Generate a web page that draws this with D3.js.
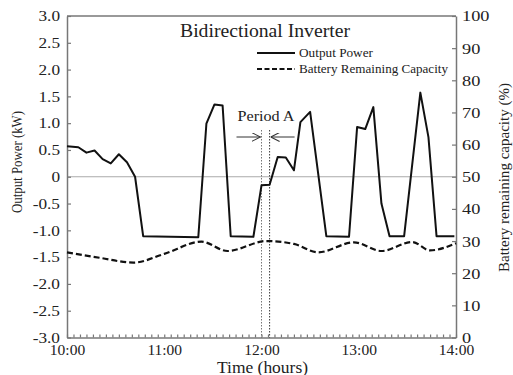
<!DOCTYPE html>
<html>
<head>
<meta charset="utf-8">
<script src="https://cdn.jsdelivr.net/npm/d3@7"></script>
<style>
  body { margin: 0; background: #fff; }
  svg text { font-family: "Liberation Serif", "DejaVu Serif", serif; fill: #222; }
</style>
</head>
<body>
<svg id="chart"></svg>
<script>
// minutes after 10:00
const powerTimes = [0, 7, 12, 17, 22, 27, 32, 37, 42, 47, 81, 86, 91, 96, 101, 115, 120, 125, 130, 135, 140, 144, 150, 160, 174, 179, 184, 189, 194, 199, 208, 218, 223, 228, 239];
const powerValues = [0.57, 0.55, 0.45, 0.49, 0.33, 0.25, 0.42, 0.27, 0, -1.11, -1.13, 0.99, 1.35, 1.33, -1.11, -1.12, -0.16, -0.15, 0.37, 0.36, 0.12, 1.02, 1.21, -1.11, -1.12, 0.93, 0.89, 1.30, -0.50, -1.11, -1.11, 1.57, 0.74, -1.11, -1.11];

const batteryTimes = [0, 20, 41, 60, 83, 99, 123, 140, 155, 177, 194, 213, 224, 240];
const batteryValues = [26.5, 24.8, 23.3, 26, 29.8, 26.9, 30, 29.1, 26.5, 29.6, 26.9, 29.7, 27.1, 29.3];

const periodA = [120, 125];

const leftTicks = [3, 2.5, 2, 1.5, 1, 0.5, 0, -0.5, -1, -1.5, -2, -2.5, -3];
const rightTicks = [0, 10, 20, 30, 40, 50, 60, 70, 80, 90, 100];
const hourTicks = [0, 60, 120, 180, 240];
const hourLabels = ['10:00', '11:00', '12:00', '13:00', '14:00'];

const width = 513, height = 375;
const margin = { top: 16, right: 57, bottom: 37.5, left: 67 };

const svg = d3.select('#chart').attr('width', width).attr('height', height);

const x = d3.scaleLinear().domain([0, 240]).range([margin.left, width - margin.right]);
const y = d3.scaleLinear().domain([-3, 3]).range([height - margin.bottom, margin.top]);
const y2 = d3.scaleLinear().domain([0, 100]).range([height - margin.bottom, margin.top]);

const axisColor = '#777';

// stretch / squeeze a text to a width (the scan looks a bit distorted)
function stretch(sel, factor) {
  sel.each(function () {
    const w = this.getComputedTextLength();
    d3.select(this).attr('textLength', w * factor).attr('lengthAdjust', 'spacingAndGlyphs');
  });
}

// zero line
svg.append('line')
  .attr('x1', x(0)).attr('x2', x(240))
  .attr('y1', y(0)).attr('y2', y(0))
  .attr('stroke', '#aaa').attr('stroke-width', 1);

// left axis
const gl = svg.append('g')
  .attr('transform', `translate(${margin.left},0)`)
  .call(d3.axisLeft(y).tickValues(leftTicks).tickSizeInner(-4).tickSizeOuter(0).tickPadding(7)
    .tickFormat(d => d === 0 ? '0' : d3.format('.1f')(d).replace('\u2212', '-')));

// right axis
const gr = svg.append('g')
  .attr('transform', `translate(${width - margin.right},0)`)
  .call(d3.axisRight(y2).tickValues(rightTicks).tickSizeInner(-4).tickSizeOuter(0).tickPadding(6));

// bottom axis (hour labels) + minor ticks
const gb = svg.append('g')
  .attr('transform', `translate(0,${height - margin.bottom})`)
  .call(d3.axisBottom(x).tickValues(d3.range(0, 241, 4)).tickSizeInner(-3).tickSizeOuter(0)
    .tickFormat(d => {
      const i = hourTicks.indexOf(d);
      return i >= 0 ? hourLabels[i] : '';
    }).tickPadding(6.5));

// top border
svg.append('line')
  .attr('x1', x(0)).attr('x2', x(240))
  .attr('y1', margin.top).attr('y2', margin.top)
  .attr('stroke', axisColor).attr('stroke-width', 1.5);

[gl, gr, gb].forEach(g => {
  g.select('.domain').attr('stroke', axisColor).attr('stroke-width', 1.5);
  g.selectAll('.tick line').attr('stroke', axisColor).attr('stroke-width', 1.2);
  g.selectAll('.tick text')
    .style('font-family', '"Liberation Serif", serif').attr('fill', '#333');
});
gl.selectAll('.tick text').style('font-size', '15px');
gr.selectAll('.tick text').style('font-size', '15.5px');
gb.selectAll('.tick text').style('font-size', '15.5px');
stretch(gl.selectAll('.tick text'), 1.15);
stretch(gr.selectAll('.tick text'), 1.18);

// period A markers
periodA.forEach((t, i) => {
  svg.append('line')
    .attr('x1', x(t)).attr('x2', x(t))
    .attr('y1', 130).attr('y2', y(-3))
    .attr('stroke', i === 0 ? '#666' : '#222').attr('stroke-width', 0.9)
    .attr('stroke-dasharray', '1.5,1.5');
});

// output power line
const powerData = powerTimes.map((t, i) => [t, powerValues[i]]);
svg.append('path')
  .datum(powerData)
  .attr('fill', 'none')
  .attr('stroke', '#111')
  .attr('stroke-width', 2)
  .attr('stroke-linejoin', 'round')
  .attr('d', d3.line().x(d => x(d[0])).y(d => y(d[1])));

// battery line
const batteryData = batteryTimes.map((t, i) => [t, batteryValues[i]]);
svg.append('path')
  .datum(batteryData)
  .attr('fill', 'none')
  .attr('stroke', '#111')
  .attr('stroke-width', 2.2)
  .attr('stroke-dasharray', '6,3')
  .attr('d', d3.line().curve(d3.curveMonotoneX).x(d => x(d[0])).y(d => y2(d[1])));

// arrows for period A
const defs = svg.append('defs');
defs.append('marker')
  .attr('id', 'arrow')
  .attr('viewBox', '0 0 10 10')
  .attr('refX', 10).attr('refY', 5)
  .attr('markerWidth', 9).attr('markerHeight', 9)
  .attr('markerUnits', 'userSpaceOnUse')
  .attr('orient', 'auto')
  .append('path')
  .attr('d', 'M0,0 L10,5 L0,10')
  .attr('fill', 'none').attr('stroke', '#333').attr('stroke-width', 1.2);

svg.append('line')
  .attr('x1', x(periodA[0]) - 25).attr('x2', x(periodA[0]) - 1)
  .attr('y1', 137).attr('y2', 137)
  .attr('stroke', '#333').attr('stroke-width', 1)
  .attr('marker-end', 'url(#arrow)');
svg.append('line')
  .attr('x1', x(periodA[1]) + 25).attr('x2', x(periodA[1]) + 1)
  .attr('y1', 137).attr('y2', 137)
  .attr('stroke', '#333').attr('stroke-width', 1)
  .attr('marker-end', 'url(#arrow)');

svg.append('text')
  .attr('x', 266).attr('y', 120.5)
  .attr('text-anchor', 'middle')
  .attr('textLength', 57).attr('lengthAdjust', 'spacingAndGlyphs')
  .style('font-size', '15px')
  .text('Period A');

// title
svg.append('text')
  .attr('x', 265).attr('y', 36.5)
  .attr('text-anchor', 'middle')
  .attr('textLength', 170).attr('lengthAdjust', 'spacingAndGlyphs')
  .style('font-size', '18px')
  .text('Bidirectional Inverter');

// legend
const legend = [
  { label: 'Output Power', dash: null, y: 53, len: 74 },
  { label: 'Battery Remaining Capacity', dash: '5,2.5', y: 69, len: 149 }
];
legend.forEach(l => {
  svg.append('line')
    .attr('x1', 257).attr('x2', 295)
    .attr('y1', l.y).attr('y2', l.y)
    .attr('stroke', '#111').attr('stroke-width', 2)
    .attr('stroke-dasharray', l.dash);
  svg.append('text')
    .attr('x', 299).attr('y', l.y + 4)
    .attr('textLength', l.len).attr('lengthAdjust', 'spacingAndGlyphs')
    .style('font-size', '12.5px')
    .text(l.label);
});

// axis titles
svg.append('text')
  .attr('transform', 'translate(22,162) rotate(-90)')
  .attr('text-anchor', 'middle')
  .attr('textLength', 102).attr('lengthAdjust', 'spacingAndGlyphs')
  .style('font-size', '15px')
  .text('Output Power (kW)');

svg.append('text')
  .attr('transform', 'translate(509,177.5) rotate(-90)')
  .attr('text-anchor', 'middle')
  .attr('textLength', 189).attr('lengthAdjust', 'spacingAndGlyphs')
  .style('font-size', '14.5px')
  .text('Battery remaining capacity (%)');

svg.append('text')
  .attr('x', 262.5).attr('y', 372.5)
  .attr('text-anchor', 'middle')
  .attr('textLength', 91).attr('lengthAdjust', 'spacingAndGlyphs')
  .style('font-size', '16.5px')
  .text('Time (hours)');
</script>
</body>
</html>
